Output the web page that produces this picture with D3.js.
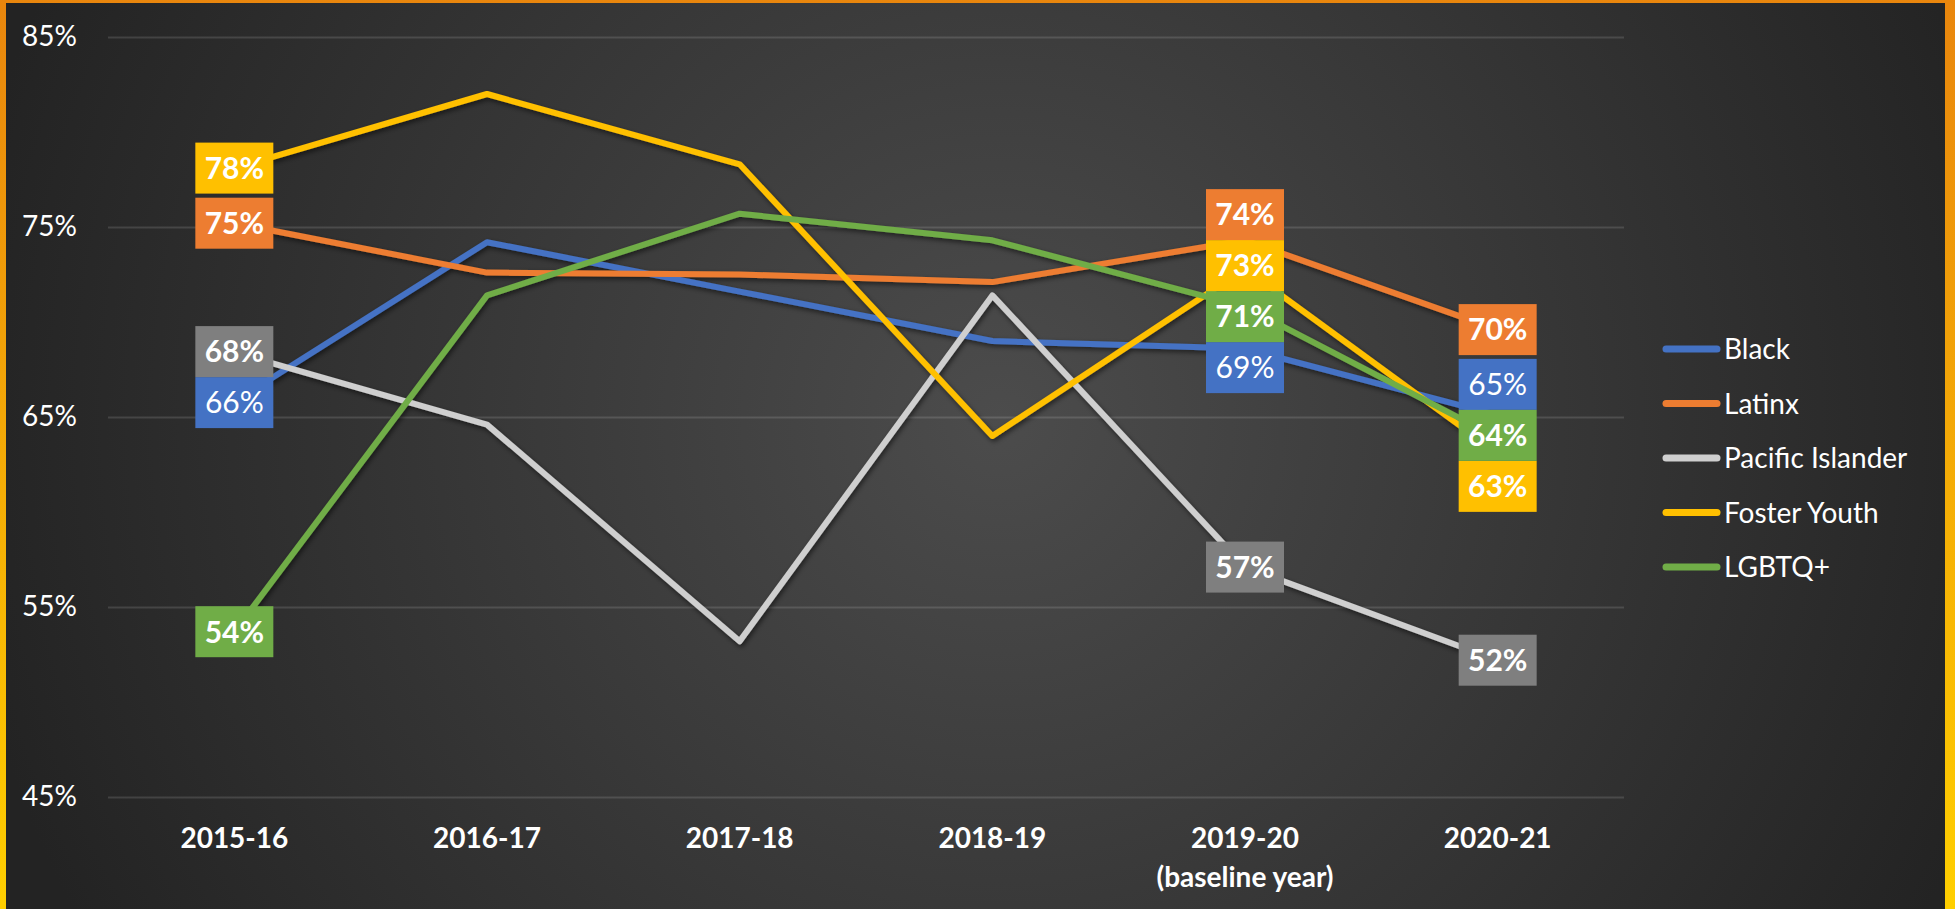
<!DOCTYPE html>
<html>
<head>
<meta charset="utf-8">
<script src="https://cdn.jsdelivr.net/npm/d3@7"></script>
<style>
  body { margin: 0; background: #262626; }
  svg { display: block; font-family: Lato, "Open Sans", sans-serif; }
</style>
</head>
<body>
<div class="chart"></div>
<script>
  // Chart data
  const years = ['2015-16', '2016-17', '2017-18', '2018-19', '2019-20', '2020-21'];
  const baselineYear = '2019-20';
  const labelYears = ['2015-16', '2019-20', '2020-21'];
  const seriesNames = ['Black', 'Latinx', 'Pacific Islander', 'Foster Youth', 'LGBTQ+'];
  const black = [65.8, 74.2, 71.6, 69.0, 68.6, 65.1];
  const latinx = [75.2, 72.6, 72.5, 72.1, 74.3, 69.6];
  const pacificIslander = [68.4, 64.6, 53.2, 71.4, 57.1, 52.2];
  const fosterYouth = [78.1, 82.0, 78.3, 64.0, 72.8, 63.1];
  const lgbtq = [53.7, 71.4, 75.7, 74.3, 70.8, 63.9];
  const yTicks = [45, 55, 65, 75, 85];

  const lineColors = ['#4472C4', '#ED7D31', '#CFCFCF', '#FFC000', '#70AD47'];
  const boxColors = ['#4472C4', '#ED7D31', '#7F7F7F', '#FFC000', '#70AD47'];

  const series = [black, latinx, pacificIslander, fosterYouth, lgbtq].map((values, i) => ({
    name: seriesNames[i],
    values,
    line: lineColors[i],
    box: boxColors[i],
    bold: i !== 0,
  }));

  // Framework for the SVG
  const W = 1955, H = 909;
  const plot = {left: 108, right: 1624, top: 37, bottom: 797};
  const boxW = 78, boxH = 51;

  const svg = d3.select('.chart').append('svg')
      .attr('width', W)
      .attr('height', H);

  const defs = svg.append('defs');
  const frame = defs.append('linearGradient')
      .attr('id', 'frame').attr('x1', 0).attr('y1', 0).attr('x2', 0).attr('y2', 1);
  frame.append('stop').attr('offset', 0).attr('stop-color', '#E9860D');
  frame.append('stop').attr('offset', 1).attr('stop-color', '#FFCF00');

  const panel = defs.append('radialGradient')
      .attr('id', 'panel').attr('gradientUnits', 'userSpaceOnUse')
      .attr('cx', 1000).attr('cy', 420).attr('r', 1050);
  panel.append('stop').attr('offset', 0).attr('stop-color', '#4c4c4c');
  panel.append('stop').attr('offset', 1).attr('stop-color', '#232323');

  const shadow = defs.append('filter').attr('id', 'shadow')
      .attr('x', '-10%').attr('y', '-10%').attr('width', '120%').attr('height', '120%');
  shadow.append('feDropShadow')
      .attr('dx', 1.5).attr('dy', 2.5).attr('stdDeviation', 2.5)
      .attr('flood-color', '#000').attr('flood-opacity', 0.55);

  // Orange / yellow frame with the dark panel inside
  svg.append('rect').attr('width', W).attr('height', H).attr('fill', 'url(#frame)');
  svg.append('rect')
      .attr('x', 6).attr('y', 3)
      .attr('width', W - 16).attr('height', H)
      .attr('fill', 'url(#panel)');

  // Scales
  const x = d3.scaleBand()
      .domain(years)
      .range([plot.left, plot.right]);
  const cx = d => x(d) + x.bandwidth() / 2;

  const y = d3.scaleLinear()
      .domain([45, 85])
      .range([plot.bottom, plot.top]);

  // Y axis with gridlines
  const yAxis = svg.append('g')
      .attr('transform', `translate(${plot.left},0)`)
      .call(d3.axisLeft(y)
        .tickValues(yTicks)
        .tickSize(-(plot.right - plot.left))
        .tickPadding(31)
        .tickFormat(d => d + '%'));
  yAxis.select('.domain').remove();
  yAxis.selectAll('.tick line')
      .attr('stroke', 'rgba(255,255,255,0.13)')
      .attr('stroke-width', 2);
  yAxis.selectAll('.tick text')
      .attr('fill', '#fff')
      .attr('font-size', 28)
      .attr('font-family', 'Lato, sans-serif');

  // X axis: bold year labels, baseline note under 2019-20
  const xAxis = svg.append('g')
      .attr('transform', `translate(0,${plot.bottom})`)
      .call(d3.axisBottom(x).tickSize(0));
  xAxis.select('.domain').remove();
  xAxis.selectAll('.tick text')
      .attr('y', 51)
      .attr('dy', 0)
      .attr('fill', '#fff')
      .attr('font-size', 28)
      .attr('font-weight', 'bold')
      .attr('font-family', 'Lato, sans-serif')
      .text(null)
      .each(function(d) {
        const t = d3.select(this);
        t.append('tspan').attr('x', 0).text(d);
        if (d === baselineYear) {
          t.append('tspan').attr('x', 0).attr('dy', 39).text('(baseline year)');
        }
      });

  // Lines
  const line = d3.line()
      .x((d, i) => cx(years[i]))
      .y(d => y(d));

  svg.append('g')
      .attr('filter', 'url(#shadow)')
    .selectAll('path')
    .data(series)
    .join('path')
      .attr('d', d => line(d.values))
      .attr('fill', 'none')
      .attr('stroke', d => d.line)
      .attr('stroke-width', 6)
      .attr('stroke-linejoin', 'round');

  // Data labels: centred on points, stacked where they would overlap
  function stackLabels(items) {
    items.sort((a, b) => a.ideal - b.ideal);
    const clusters = [];
    items.forEach(item => {
      clusters.push({members: [item], sum: item.ideal});
      while (clusters.length > 1) {
        const b = clusters[clusters.length - 1];
        const a = clusters[clusters.length - 2];
        const aBottom = a.sum / a.members.length + (a.members.length / 2) * boxH;
        const bTop = b.sum / b.members.length - (b.members.length / 2) * boxH;
        if (bTop >= aBottom) break;
        a.members = a.members.concat(b.members);
        a.sum += b.sum;
        clusters.pop();
      }
    });
    clusters.forEach(c => {
      const n = c.members.length;
      const mid = c.sum / n;
      c.members.forEach((m, i) => { m.pos = mid + (i - (n - 1) / 2) * boxH; });
    });
  }

  const labels = [];
  labelYears.forEach(year => {
    const idx = years.indexOf(year);
    const items = series.map((s, si) => ({
      s, si, year, value: s.values[idx], ideal: y(s.values[idx]),
    }));
    stackLabels(items);
    labels.push(...items);
  });
  labels.sort((a, b) => a.si - b.si);

  const labelG = svg.append('g')
    .selectAll('g')
    .data(labels)
    .join('g')
      .attr('transform', d => `translate(${cx(d.year)},${d.pos})`);
  labelG.append('rect')
      .attr('x', -boxW / 2)
      .attr('y', -boxH / 2)
      .attr('width', boxW)
      .attr('height', boxH)
      .attr('fill', d => d.s.box);
  labelG.append('text')
      .attr('text-anchor', 'middle')
      .attr('dy', '0.36em')
      .attr('fill', '#fff')
      .attr('font-size', 30)
      .attr('font-weight', d => d.s.bold ? 'bold' : 'normal')
      .text(d => d3.format('.0f')(d.value) + '%');

  // Legend
  const legend = svg.append('g')
      .attr('transform', 'translate(1663,349)')
    .selectAll('g')
    .data(series)
    .join('g')
      .attr('transform', (d, i) => `translate(0,${i * 54.5})`);
  legend.append('line')
      .attr('x1', 3).attr('x2', 54)
      .attr('stroke', d => d.line)
      .attr('stroke-width', 7)
      .attr('stroke-linecap', 'round');
  legend.append('text')
      .attr('x', 61)
      .attr('dy', '0.36em')
      .attr('fill', '#fff')
      .attr('font-size', 28)
      .text(d => d.name);
</script>
</body>
</html>
